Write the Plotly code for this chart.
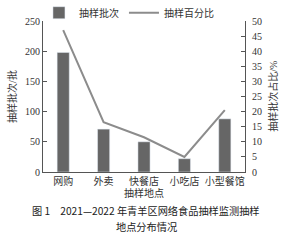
import plotly.graph_objects as go

categories = ["网购", "外卖", "快餐店", "小吃店", "小型餐馆"]
batches = [198, 71, 50, 22, 88]
percent = [47, 16.5, 11.5, 5, 20.5]

FONT = "Liberation Serif, Noto Sans CJK SC"
CAP_FONT = "Noto Sans CJK SC"
fig = go.Figure()
fig.add_trace(go.Bar(x=categories, y=batches, name="抽样批次", marker_color="#666666",
                     width=0.3, yaxis="y"))
fig.add_trace(go.Scatter(x=categories, y=percent, name="抽样百分比", mode="lines",
                         line=dict(color="#8c8c8c", width=2), yaxis="y2"))

fig.update_layout(
    width=304, height=240,
    margin=dict(l=43, r=59, t=21, b=68, autoexpand=False),
    paper_bgcolor="white", plot_bgcolor="white",
    font=dict(family=FONT, size=10, color="#333333"),
    showlegend=True,
    legend=dict(orientation="h", x=-0.02, y=1.055, xanchor="left", yanchor="middle",
                font=dict(size=10), itemwidth=30, tracegroupgap=0,
                bgcolor="rgba(0,0,0,0)"),
    xaxis=dict(showline=True, linecolor="#555", linewidth=1, ticks="",
               tickfont=dict(size=10), showgrid=False, automargin=True,
               title=dict(text="抽样地点", font=dict(size=10), standoff=0)),
    yaxis=dict(range=[0, 250], dtick=50, showline=True, linecolor="#555", linewidth=1,
               ticks="inside", ticklen=4, tickcolor="#555", showgrid=False, zeroline=False,
               tickfont=dict(size=10), automargin=True,
               title=dict(text="抽样批次/批", font=dict(size=10), standoff=6)),
    yaxis2=dict(range=[0, 50], dtick=5, overlaying="y", side="right", showline=True,
                linecolor="#555", linewidth=1, ticks="inside", ticklen=4, tickcolor="#555",
                showgrid=False, zeroline=False, tickfont=dict(size=10), automargin=True,
                ticklabelstandoff=4),
    bargap=0.7,
)
fig.add_annotation(text="抽样批次占比/%", textangle=-90, x=1.135, xref="paper",
                   y=0.5, yref="paper", xanchor="center", yanchor="middle", showarrow=False,
                   font=dict(family=FONT, size=10, color="#333333"))
fig.add_annotation(text="图 1　2021—2022 年青羊区网络食品抽样监测抽样", x=0.51, xref="paper",
                   y=-0.252, yref="paper", yanchor="middle", showarrow=False,
                   font=dict(family=CAP_FONT, size=10.2, color="#222"))
fig.add_annotation(text="地点分布情况", x=0.51, xref="paper",
                   y=-0.364, yref="paper", yanchor="middle", showarrow=False,
                   font=dict(family=CAP_FONT, size=10.2, color="#222"))
fig.write_html("out.html")
